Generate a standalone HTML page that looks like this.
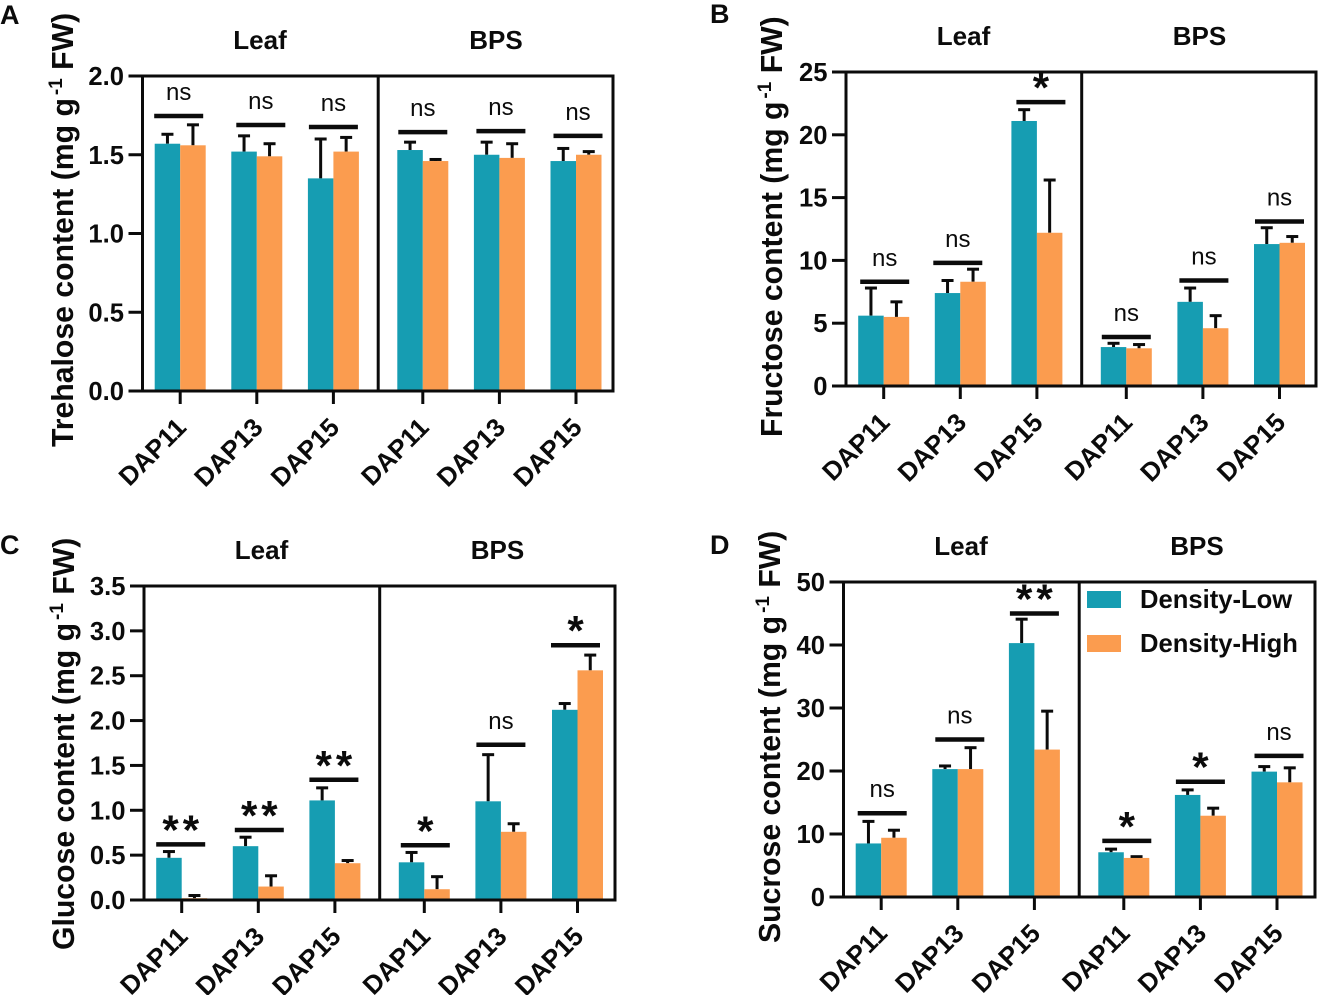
<!DOCTYPE html>
<html lang="en">
<head>
<meta charset="utf-8">
<title>Sugar content by planting density</title>
<style>
  html, body { margin: 0; padding: 0; background: #fff; }
  svg { display: block; }
  text { font-family: "Liberation Sans", Arial, sans-serif; fill: #0b0b0b; }
</style>
</head>
<body>
<svg id="figure" xmlns="http://www.w3.org/2000/svg" width="1320" height="995" viewBox="0 0 1320 995">
  <g>
    <rect x="1087" y="591" width="34" height="17" fill="#169db2"></rect>
    <text x="1140" y="608" font-size="25.6" font-weight="700">Density-Low</text>
    <rect x="1087" y="635" width="34" height="17" fill="#fb9c4f"></rect>
    <text x="1140" y="652" font-size="25.6" font-weight="700">Density-High</text>
  </g>
</svg>
<script>
const categories = ['DAP11', 'DAP13', 'DAP15', 'DAP11', 'DAP13', 'DAP15'];

const trehaloseTicks = ['0.0', '0.5', '1.0', '1.5', '2.0'];
const trehaloseLow = [1.57, 1.52, 1.35, 1.53, 1.50, 1.46];
const trehaloseHigh = [1.56, 1.49, 1.52, 1.46, 1.48, 1.50];
const trehaloseLowErr = [0.06, 0.10, 0.25, 0.05, 0.08, 0.08];
const trehaloseHighErr = [0.13, 0.08, 0.09, 0.01, 0.09, 0.02];
const trehaloseLevels = [1.746, 1.689, 1.676, 1.644, 1.65, 1.62];
const trehaloseMarks = ['ns', 'ns', 'ns', 'ns', 'ns', 'ns'];

const fructoseTicks = ['0', '5', '10', '15', '20', '25'];
const fructoseLow = [5.6, 7.4, 21.1, 3.1, 6.7, 11.3];
const fructoseHigh = [5.5, 8.3, 12.2, 3.0, 4.6, 11.4];
const fructoseLowErr = [2.2, 1.0, 0.9, 0.3, 1.1, 1.3];
const fructoseHighErr = [1.2, 1.0, 4.2, 0.3, 1.0, 0.5];
const fructoseLevels = [8.3, 9.8, 22.6, 3.9, 8.4, 13.1];
const fructoseMarks = ['ns', 'ns', '*', 'ns', 'ns', 'ns'];

const glucoseTicks = ['0.0', '0.5', '1.0', '1.5', '2.0', '2.5', '3.0', '3.5'];
const glucoseLow = [0.47, 0.60, 1.11, 0.42, 1.10, 2.12];
const glucoseHigh = [0.02, 0.15, 0.41, 0.12, 0.76, 2.56];
const glucoseLowErr = [0.07, 0.10, 0.14, 0.11, 0.52, 0.07];
const glucoseHighErr = [0.03, 0.12, 0.03, 0.14, 0.09, 0.17];
const glucoseLevels = [0.62, 0.78, 1.34, 0.61, 1.73, 2.84];
const glucoseMarks = ['**', '**', '**', '*', 'ns', '*'];

const sucroseTicks = ['0', '10', '20', '30', '40', '50'];
const sucroseLow = [8.5, 20.3, 40.3, 7.1, 16.2, 19.9];
const sucroseHigh = [9.4, 20.3, 23.4, 6.2, 12.9, 18.2];
const sucroseLowErr = [3.5, 0.5, 3.8, 0.5, 0.8, 0.8];
const sucroseHighErr = [1.2, 3.4, 6.1, 0.2, 1.2, 2.3];
const sucroseLevels = [13.3, 25, 45, 8.9, 18.3, 22.4];
const sucroseMarks = ['ns', 'ns', '**', '*', '*', 'ns'];

const tissues = ['Leaf', 'BPS'];

const TEAL = '#169db2';
const ORANGE = '#fb9c4f';
const INK = '#0b0b0b';
const NS = 'http://www.w3.org/2000/svg';
const figure = document.getElementById('figure');

const panels = [
  { id: 'a', letter: 'A', letterX: 0, letterY: 24, left: 142.5, right: 613, top: 76, bottom: 391, title: 'Trehalose content (mg g', titleX: 73, titleY: 447, nudge: [-1.5, 4, 0, 0, 1.5, 2],
    ticks: trehaloseTicks, low: trehaloseLow, high: trehaloseHigh, lowErr: trehaloseLowErr, highErr: trehaloseHighErr, levels: trehaloseLevels, marks: trehaloseMarks },
  { id: 'b', letter: 'B', letterX: 710, letterY: 23, left: 846, right: 1316, top: 72, bottom: 386, title: 'Fructose content (mg g', titleX: 782, titleY: 437, nudge: [1, -2.5, 4, 0, 1, 0],
    ticks: fructoseTicks, low: fructoseLow, high: fructoseHigh, lowErr: fructoseLowErr, highErr: fructoseHighErr, levels: fructoseLevels, marks: fructoseMarks },
  { id: 'c', letter: 'C', letterX: 0, letterY: 554, left: 144, right: 615, top: 586, bottom: 900, title: 'Glucose content (mg g', titleX: 74, titleY: 950, nudge: [-1, 1, -1, 1, 0, -2],
    ticks: glucoseTicks, low: glucoseLow, high: glucoseHigh, lowErr: glucoseLowErr, highErr: glucoseHighErr, levels: glucoseLevels, marks: glucoseMarks },
  { id: 'd', letter: 'D', letterX: 710, letterY: 554, left: 843.5, right: 1315, top: 582, bottom: 897, title: 'Sucrose content (mg g', titleX: 780, titleY: 943, nudge: [1, 2, 0, 3, 0, 2],
    ticks: sucroseTicks, low: sucroseLow, high: sucroseHigh, lowErr: sucroseLowErr, highErr: sucroseHighErr, levels: sucroseLevels, marks: sucroseMarks }
];

function make(tag, attrs, parent, content) {
  const el = document.createElementNS(NS, tag);
  for (const key in attrs) el.setAttribute(key, attrs[key]);
  if (content !== undefined) el.textContent = content;
  parent.appendChild(el);
  return el;
}

function drawPanel(p) {
  const group = make('g', {}, figure);
  
  

  const yMax = parseFloat(p.ticks[p.ticks.length - 1]);
  const yScale = v => p.bottom - (v / yMax) * (p.bottom - p.top);
  const xScale = i => p.left + (i < 3 ? 37.7 + i * 76.6 : 280.3 + (i - 3) * 76.6);
  const divider = p.left + 235.7;
  const barW = 25.5;

  const letter = make('text', { x: p.letterX, y: p.letterY, 'font-size': 27, 'font-weight': 700 }, group, p.letter);
  
  

  const yTitle = make('text', { transform: 'translate(' + p.titleX + ' ' + p.titleY + ') rotate(-90)', 'font-size': 30.2, 'font-weight': 700 }, group);
  
  
  make('tspan', {}, yTitle, p.title);
  make('tspan', { dx: 3, dy: -11, 'font-size': 19 }, yTitle, '-1');
  make('tspan', { dy: 11 }, yTitle, ' FW)');

  tissues.forEach((name, t) => {
    const label = make('text', { x: p.left + (t === 0 ? 117.5 : 353.5), y: p.top - 27, 'font-size': 26, 'font-weight': 700, 'text-anchor': 'middle' }, group, name);
    
    
  });

  categories.forEach((cat, i) => {
    const cx = xScale(i);
    const series = [
      { key: 'low', values: p.low, errs: p.lowErr, color: TEAL, x: cx - barW },
      { key: 'high', values: p.high, errs: p.highErr, color: ORANGE, x: cx }
    ];
    series.forEach(s => {
      const yVal = yScale(s.values[i]);
      const yErr = yScale(s.values[i] + s.errs[i]);
      const mid = s.x + barW / 2;
      const stem = make('line', { x1: mid, x2: mid, y1: yVal, y2: yErr, stroke: INK, 'stroke-width': 3 }, group);
      
      
      const cap = make('line', { x1: mid - 6, x2: mid + 6, y1: yErr, y2: yErr, stroke: INK, 'stroke-width': 3 }, group);
      
      
      const bar = make('rect', { x: s.x, y: yVal, width: barW, height: p.bottom - yVal, fill: s.color }, group);
      
      
    });

    const tick = make('line', { x1: cx, x2: cx, y1: p.bottom, y2: p.bottom + 13, stroke: INK, 'stroke-width': 3 }, group);
    
    

    const xLabel = make('text', { transform: 'translate(' + (cx + 7.5) + ' ' + (p.bottom + 38) + ') rotate(-45)', 'font-size': 26, 'font-weight': 700, 'text-anchor': 'end' }, group, cat);
    
    

    const yB = yScale(p.levels[i]);
    const mx = cx + p.nudge[i];
    const bracket = make('line', { x1: mx - 24.5, x2: mx + 24.5, y1: yB, y2: yB, stroke: INK, 'stroke-width': 4.5 }, group);
    
    

    const isNs = p.marks[i] === 'ns';
    const mark = make('text', isNs
      ? { x: mx, y: yB - 16, 'font-size': 24, 'text-anchor': 'middle' }
      : { x: mx + 2, y: yB, 'font-size': 42, 'font-weight': 700, 'letter-spacing': 4, 'text-anchor': 'middle' }, group, p.marks[i]);
    
    
  });

  p.ticks.forEach(label => {
    const y = yScale(parseFloat(label));
    const tick = make('line', { x1: p.left - 14, x2: p.left, y1: y, y2: y, stroke: INK, 'stroke-width': 3 }, group);
    
    
    const text = make('text', { x: p.left - 18.5, y: y + 9, 'font-size': 25.6, 'font-weight': 700, 'text-anchor': 'end' }, group, label);
    
    
  });

  const frame = make('rect', { x: p.left, y: p.top, width: p.right - p.left, height: p.bottom - p.top, fill: 'none', stroke: INK, 'stroke-width': 3 }, group);
  
  

  const split = make('line', { x1: divider, x2: divider, y1: p.top, y2: p.bottom, stroke: INK, 'stroke-width': 3 }, group);
  
  
}

panels.forEach(drawPanel);
</script>
</body>
</html>
